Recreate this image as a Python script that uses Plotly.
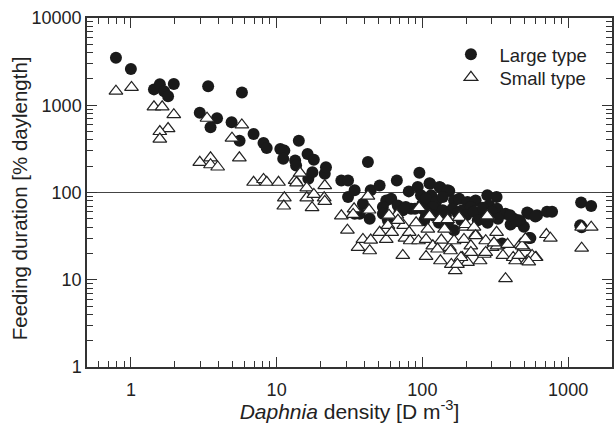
import plotly.graph_objects as go

# Large type (filled circles): Daphnia density [D m^-3], feeding duration [% daylength]
large_x = [0.79, 1.0, 1.44, 1.58, 1.69, 1.80, 1.97, 3.39, 2.97, 3.90, 3.52,
           4.91, 5.57, 5.78, 6.95, 8.13, 8.55, 10.6, 11.3, 11.1, 14.2, 13.4, 13.6,
           16.3, 16.5, 18.0, 17.6, 21.4, 21.8, 27.8, 30.9, 30.9, 34.3, 42.3, 44.2,
           50.9, 66.8, 95.4, 80.7, 113, 134, 153, 279, 323, 524, 612, 716, 776,
           1228, 1439, 1238, 537, 537, 596, 471, 497,
           39.1, 92.9, 56.5, 61.1, 53.6, 67.8, 73.4, 83.6, 106, 97.8, 34.3, 37.2,
           43.5, 53.6, 69.7, 58, 106, 77, 89, 100,
           112, 131, 149, 115, 106, 124, 138, 165, 179, 204, 232, 287, 326, 372,
           425, 459, 118, 138, 161, 188, 215, 251, 100, 106,
           103, 165, 353, 551, 403, 440, 1210,
           120, 145, 175, 200, 225, 260, 300, 150, 130, 185, 240, 280, 330, 400]
large_y = [3500, 2600, 1520, 1740, 1450, 1270, 1750, 1650, 820, 710, 560,
           640, 393, 1400, 468, 370, 324, 316, 302, 243, 393, 232, 204,
           277, 144, 238, 171, 164, 195, 137, 137, 89, 106, 223, 106,
           120, 137, 168, 103, 126, 113, 104, 93, 89, 59, 55, 60, 60,
           77, 70, 40, 30, 57, 53, 46, 40.5,
           74.5, 116, 81, 85, 68, 71, 62.5, 65, 74.5, 93, 57, 57,
           50, 57, 60, 48, 55, 68, 65, 74,
           128, 116, 106, 93, 85, 78, 89, 81, 85, 78, 81, 71, 65, 57,
           50, 48, 68, 62.5, 65, 62.5, 68, 57, 65, 60,
           48, 37, 26, 30, 43, 47, 42,
           54, 55, 58, 55, 60, 67, 60, 45, 45, 48, 48, 45, 50, 55]

# Small type (open triangles)
small_x = [0.79, 1.01, 1.44, 1.64, 1.97, 1.80, 1.58, 1.58,
           3.33, 2.97, 3.52, 3.52, 3.94, 4.94, 5.77, 5.55,
           6.95, 8.13, 8.55, 10.3, 11.3, 11.2, 13.4, 13.7, 14.5, 16.1, 16.1,
           18.0, 17.5, 21.4, 21.2, 21.4, 27.8, 34.0, 33.5, 42.3, 43.1, 95,
           30.6, 36.2, 39.1, 43.5, 44.2, 50.9, 56.5, 58, 61.6, 66.8, 73.4, 74.4,
           76, 81.2, 82.5, 90.6, 94, 106, 109, 106, 118, 133, 135, 142, 153, 158,
           165, 168, 188, 193, 197, 204, 215, 232, 249, 266, 272, 281, 301, 323,
           326, 372, 357, 384, 420, 436, 471, 523, 603, 497,
           709, 755, 483, 566, 596, 537, 459, 509,
           1238, 1440, 1238,
           112, 131, 149, 179, 198, 279, 226, 232, 310, 127, 156, 215, 272, 184, 174,
           59, 68]
small_y = [1450, 1600, 960, 960, 780, 540, 500, 410,
           710, 222, 250, 208, 196, 420, 595, 250,
           131, 141, 131, 131, 87, 70, 138, 129, 167, 113, 87,
           95, 67, 120, 87, 79, 54, 65, 56, 91, 63, 67,
           37, 23.5, 29, 21.5, 28.5, 35, 29, 42, 35, 55, 19, 42,
           30, 35, 28, 45, 28, 29, 38, 18.5, 24.5, 16.5, 28.5, 38, 23.5, 15,
           28, 12.7, 18, 29, 40, 15.8, 24.5, 33, 16.5, 19.6, 28, 53, 23.5, 35,
           24.5, 10.3, 19, 25.5, 18, 16.5, 25.5, 16.5, 18, 23.5,
           33, 30, 24.5, 19, 18, 16, 19, 29.5,
           40, 40, 23,
           54, 49, 49, 52, 43, 54, 40, 32, 26.5, 22.5, 21.5, 20.6, 20.6, 18, 15,
           55, 48]

ref_x = [0.5, 2000]
ref_y = [100, 100]

x_major = [1, 10, 100, 1000]
x_major_text = ["1", "10", "100", "1000"]
y_major = [1, 10, 100, 1000, 10000]
y_major_text = ["1", "10", "100", "1000", "10000"]

x_minor = [m * 10 ** e for e in range(-1, 4) for m in range(2, 10) if 0.5 <= m * 10 ** e <= 2000]
y_minor = [m * 10 ** e for e in range(0, 4) for m in range(2, 10)]

ink = "#222222"
font = "Liberation Sans, Arial, Helvetica, sans-serif"

fig = go.Figure()
fig.add_trace(go.Scatter(x=ref_x, y=ref_y, mode="lines",
                         line=dict(color="#444444", width=1.2),
                         showlegend=False, hoverinfo="skip"))
fig.add_trace(go.Scatter(x=large_x, y=large_y, mode="markers", name="Large type",
                         legend="legend",
                         marker=dict(symbol="circle", size=12, color="#1a1a1a",
                                     line=dict(width=0))))
fig.add_trace(go.Scatter(x=small_x, y=small_y, mode="markers", name="Small type",
                         legend="legend2",
                         marker=dict(symbol="triangle-up", size=12, color="white",
                                     line=dict(width=1.2, color=ink))))

axis_common = dict(showgrid=False, zeroline=False, showline=True, linecolor="#333333",
                   linewidth=1.5, mirror="allticks", ticks="inside", ticklen=10,
                   tickwidth=1.2, tickcolor="#333333",
                   tickfont=dict(family=font, size=18, color=ink))

fig.update_xaxes(type="log", range=[-0.30103, 3.30103], tickvals=x_major,
                 ticktext=x_major_text, ticklabelstandoff=6,
                 minor=dict(tickvals=x_minor, ticks="inside", ticklen=6,
                            tickwidth=1.2, tickcolor="#333333"),
                 title=dict(text="<i>Daphnia</i> density [D m<sup>-3</sup>]",
                            font=dict(family=font, size=21, color=ink), standoff=7),
                 **axis_common)
fig.update_yaxes(type="log", range=[0, 4], tickvals=y_major, ticktext=y_major_text,
                 minor=dict(tickvals=y_minor, ticks="inside", ticklen=6,
                            tickwidth=1.2, tickcolor="#333333"),
                 **axis_common)

legend_style = dict(xanchor="left", yanchor="top",
                    font=dict(family=font, size=18.5, color=ink),
                    itemwidth=47, bgcolor="rgba(0,0,0,0)")

fig.update_layout(
    width=615, height=423,
    margin=dict(l=87, r=1, t=18, b=54),
    paper_bgcolor="white", plot_bgcolor="white",
    font=dict(family=font, color=ink),
    legend=dict(x=0.677, y=0.949, **legend_style),
    legend2=dict(x=0.677, y=0.883, **legend_style),
    annotations=[dict(text="Feeding duration [% daylength]", textangle=-90,
                      xref="paper", yref="paper", x=-0.127, y=0.4844,
                      xanchor="center", yanchor="middle", showarrow=False,
                      font=dict(family=font, size=20.5, color=ink))],
)

fig.write_html("out.html")
